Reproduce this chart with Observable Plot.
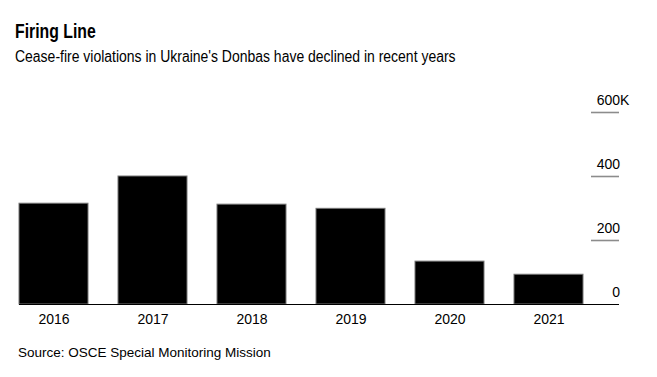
<!DOCTYPE html>
<html>
<head>
<meta charset="utf-8">
<script src="https://cdn.jsdelivr.net/npm/d3@7"></script>
<script src="https://cdn.jsdelivr.net/npm/@observablehq/plot@0.6"></script>
<style>
  html, body { margin: 0; padding: 0; background: #fff; width: 657px; height: 377px; overflow: hidden; }
  body { position: relative; font-family: "Liberation Sans", Arial, sans-serif; color: #000; }
  .title { position: absolute; left: 15px; top: 22.2px; font-size: 19.5px; line-height: 1; font-weight: bold; white-space: nowrap; transform: scaleX(0.81); transform-origin: left top; }
  .subtitle { position: absolute; left: 15px; top: 48.8px; font-size: 16px; line-height: 1; white-space: nowrap; transform: scaleX(0.873); transform-origin: left top; }
  .source { position: absolute; left: 18px; top: 345.9px; font-size: 13.5px; line-height: 1; white-space: nowrap; }
  #chart { position: absolute; left: 0; top: 80px; }
</style>
</head>
<body>
<div class="title">Firing Line</div>
<div class="subtitle">Cease-fire violations in Ukraine's Donbas have declined in recent years</div>
<div id="chart"></div>
<div class="source">Source: OSCE Special Monitoring Mission</div>
<script>
const years = ["2016", "2017", "2018", "2019", "2020", "2021"];
const violations = [315, 400, 312, 299, 134, 93]; // thousands
const tickValues = [0, 200, 400, 600];
const tickLabels = ["0", "200", "400", "600"];
const unitSuffix = "K";

const data = years.map((year, i) => ({year, value: violations[i]}));
const ticks = tickValues.map((v, i) => ({v, label: tickLabels[i]}));

const chart = Plot.plot({
  width: 657,
  height: 250,
  marginLeft: 19,
  marginRight: 38,
  marginTop: 32,
  marginBottom: 26,
  style: {fontFamily: "'Liberation Sans', Arial, sans-serif", color: "#000", background: "transparent"},
  x: {domain: years, range: [19, 583.6], paddingInner: 0.3, paddingOuter: 0, label: null},
  y: {domain: [0, 600], axis: null},
  marks: [
    Plot.barY(data, {x: "year", y: "value", fill: "#000", stroke: "#777", strokeWidth: 1}),
    Plot.ruleY(ticks.filter(d => d.v > 0), {y: "v", insetLeft: 572, stroke: "#8c8c8c", strokeWidth: 1.6}),
    Plot.ruleY([0], {stroke: "#000", strokeWidth: 1.2}),
    Plot.text(ticks, {y: "v", text: "label", frameAnchor: "right", textAnchor: "end", lineAnchor: "bottom", dy: -8, dx: 0.5, fontSize: 14, fill: "#000", style: "letter-spacing:0.8px"}),
    Plot.text(ticks.filter(d => d.v === d3.max(tickValues)), {y: "v", text: () => unitSuffix, frameAnchor: "right", textAnchor: "start", lineAnchor: "bottom", dy: -8, dx: 0.5, fontSize: 14, fill: "#000"}),
    Plot.axisX({tickSize: 0, tickPadding: 10, fontSize: 14, label: null})
  ]
});
document.getElementById("chart").appendChild(chart);
</script>
</body>
</html>
